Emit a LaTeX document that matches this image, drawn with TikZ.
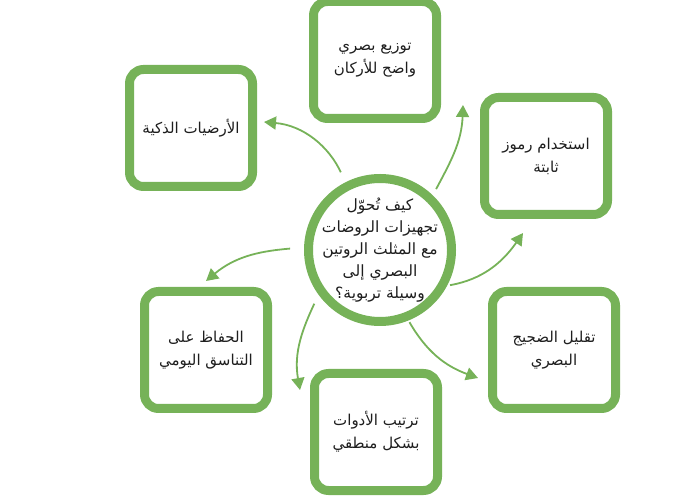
\documentclass[tikz,border=0pt]{standalone}
\usepackage{fontspec}
\usetikzlibrary{arrows.meta,calc}
\TeXXeTstate=1
\newfontfamily\arabicfont[Script=Arabic]{DejaVu Sans}
\definecolor{grn}{RGB}{118,178,88}
\definecolor{txt}{RGB}{30,30,30}
\tikzset{
  box/.style={draw=grn, line width=9pt, rounded corners=14pt, minimum width=123pt, minimum height=117pt, fill=white, inner sep=0pt, align=center, font=\arabicfont\fontsize{15}{23}\selectfont, text=txt},
  hub/.style={circle, draw=grn, line width=9pt, minimum size=143pt, inner sep=0pt, fill=white},
  hubtext/.style={align=center, font=\arabicfont\fontsize{15.5}{22}\selectfont, text=txt},
  link/.style={draw=grn, line width=1.8pt, -{Triangle[length=12pt,width=13pt]}},
}
\begin{document}
\begin{tikzpicture}[x=1pt,y=1pt]
\useasboundingbox (0,0) rectangle (700,500);
\node[hub] (c) at (380,250) {};
\node[hubtext] (ct) at (380,250) {\beginR كيف تُحوّل\endR\\\beginR تجهيزات الروضات\endR\\\beginR مع المثلث الروتين\endR\\\beginR البصري إلى\endR\\\beginR وسيلة تربوية؟\endR};
\node[box] (b1) at (375,440) {\beginR توزيع بصري\endR\\\beginR واضح للأركان\endR};
\node[box] (b2) at (191,372) {\beginR الأرضيات الذكية\endR};
\node[box] (b3) at (546,344) {\beginR استخدام رموز\endR\\\beginR ثابتة\endR};
\node[box] (b4) at (206,150) {\beginR الحفاظ على\endR\\\beginR التناسق اليومي\endR};
\node[box] (b5) at (376,68) {\beginR ترتيب الأدوات\endR\\\beginR بشكل منطقي\endR};
\node[box] (b6) at (554,150) {\beginR تقليل الضجيج\endR\\\beginR البصري\endR};
\draw[link, shorten <=11pt] (c.117) to[out=115,in=-5] ([xshift=7pt,yshift=6pt]b2.east);
\draw[link, shorten <=7pt] (c.46) to[out=62,in=-92] ([xshift=22pt,yshift=18pt]b1.south east);
\draw[link, shorten <=3pt] (c.-28) to[out=10,in=-125] ([xshift=-23pt,yshift=-14pt]b3.south);
\draw[link, shorten <=14pt] (c.178) to[out=185,in=40] ([yshift=6pt]b4.north);
\draw[link, shorten <=10pt] (c.216) to[out=245,in=100] ([xshift=-10pt,yshift=-21pt]b5.north west);
\draw[link, shorten <=2pt] (c.-68) to[out=-60,in=160] ([xshift=-10pt,yshift=-28pt]b6.west);
\end{tikzpicture}
\end{document}
